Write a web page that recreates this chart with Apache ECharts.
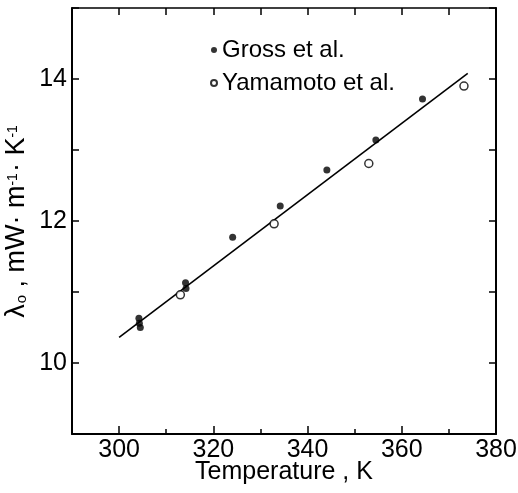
<!DOCTYPE html>
<html>
<head>
<meta charset="utf-8">
<script src="https://cdn.jsdelivr.net/npm/echarts@6/dist/echarts.min.js"></script>
<style>html,body{margin:0;padding:0;background:#fff}#c{width:518px;height:493px}</style>
</head>
<body>
<div id="c"></div>
<script>
// Data
const grossT = [304.2, 304.3, 304.5, 314.1, 314.2, 324.1, 334.2, 344.1, 354.5, 364.4];
const grossL = [10.63, 10.56, 10.50, 11.13, 11.05, 11.77, 12.21, 12.72, 13.14, 13.72];
const yamaT = [313.0, 332.9, 353.0, 373.2];
const yamaL = [10.96, 11.96, 12.81, 13.90];
const fitT = [300, 374];
const fitL = [10.36, 14.08];
const xMajorTicks = [300, 320, 340, 360, 380];
const seriesNames = ['Gross et al.', 'Yamamoto et al.'];

const zip = (a, b) => a.map((v, i) => [v, b[i]]);
const FONT = 'Liberation Sans';
const gridRect = { left: 72, right: 22, top: 8, bottom: 59, outerBoundsMode: 'none', containLabel: false };

const chart = echarts.init(document.getElementById('c'), null, { renderer: 'canvas' });
chart.setOption({
  animation: false,
  backgroundColor: '#fff',
  textStyle: { fontFamily: FONT, color: '#000' },
  grid: [Object.assign({}, gridRect), Object.assign({}, gridRect)],
  legend: {
    orient: 'vertical',
    left: 205,
    top: 33,
    itemWidth: 6,
    itemHeight: 6,
    itemGap: 9,
    data: seriesNames,
    textStyle: { fontFamily: FONT, fontSize: 24, color: '#000', lineHeight: 24 }
  },
  xAxis: [
    {
      gridIndex: 0, type: 'value', position: 'bottom', min: 290, max: 380, interval: 10,
      axisLine: { lineStyle: { color: '#000', width: 2 } },
      axisTick: { inside: true, length: 5, lineStyle: { color: '#000', width: 1.5 } },
      axisLabel: {
        fontFamily: FONT, fontSize: 25, color: '#000', margin: 4,
        formatter: v => (v >= 300 && v % 20 === 0) ? String(v) : ''
      },
      splitLine: { show: false },
      name: 'Temperature , K', nameLocation: 'middle', nameGap: 26, nameMoveOverlap: false,
      nameTextStyle: { fontFamily: FONT, fontSize: 25, color: '#000' }
    },
    {
      gridIndex: 0, type: 'value', position: 'top', min: 290, max: 380, interval: 10,
      axisLine: { lineStyle: { color: '#000', width: 1.5 } },
      axisTick: { inside: true, length: 7, lineStyle: { color: '#000', width: 1.5 } },
      axisLabel: { show: false },
      splitLine: { show: false }
    },
    {
      gridIndex: 1, type: 'value', position: 'bottom', min: 290, max: 380, interval: 10,
      axisLine: { show: false },
      axisTick: { inside: true, length: 8, customValues: xMajorTicks, lineStyle: { color: '#000', width: 1.5 } },
      axisLabel: { show: false },
      splitLine: { show: false }
    }
  ],
  yAxis: [
    {
      gridIndex: 0, type: 'value', position: 'left', min: 9, max: 15, interval: 1,
      axisLine: { lineStyle: { color: '#000', width: 2 } },
      axisTick: { inside: true, length: 7, lineStyle: { color: '#000', width: 1.5 } },
      axisLabel: {
        fontFamily: FONT, fontSize: 25, color: '#000', margin: 5,
        formatter: v => (v % 2 === 0) ? String(v) : ''
      },
      splitLine: { show: false },
      name: '{m|λ}{s|o}{m| , mW· m}{p|-1}{m|· K}{p|-1}',
      nameLocation: 'middle', nameGap: 40, nameRotate: 90, nameMoveOverlap: false,
      nameTextStyle: {
        fontFamily: FONT, color: '#000',
        rich: {
          m: { fontFamily: FONT, fontSize: 27, color: '#000', lineHeight: 30, verticalAlign: 'middle' },
          s: { fontFamily: FONT, fontSize: 15, color: '#000', lineHeight: 30, verticalAlign: 'bottom', padding: [0, 0, 3, 1] },
          p: { fontFamily: FONT, fontSize: 14, color: '#000', lineHeight: 30, verticalAlign: 'top', padding: [4, 1, 0, 0] }
        }
      }
    },
    {
      gridIndex: 0, type: 'value', position: 'right', min: 9, max: 15, interval: 1,
      axisLine: { lineStyle: { color: '#000', width: 2 } },
      axisTick: { inside: true, length: 7, lineStyle: { color: '#000', width: 1.5 } },
      axisLabel: { show: false },
      splitLine: { show: false }
    },
    {
      gridIndex: 1, type: 'value', position: 'left', min: 9, max: 15, interval: 1, show: false
    }
  ],
  series: [
    {
      type: 'line', xAxisIndex: 0, yAxisIndex: 0, data: zip(fitT, fitL),
      symbol: 'none', lineStyle: { color: '#000', width: 1.6 }, z: 1, silent: true
    },
    {
      name: seriesNames[0], type: 'scatter', xAxisIndex: 0, yAxisIndex: 0,
      data: zip(grossT, grossL), symbol: 'circle', symbolSize: 7,
      itemStyle: { color: '#000' }, z: 3
    },
    {
      name: seriesNames[1], type: 'scatter', xAxisIndex: 0, yAxisIndex: 0,
      data: zip(yamaT, yamaL), symbol: 'circle', symbolSize: 8,
      itemStyle: { color: '#fff', borderColor: '#000', borderWidth: 1.5 }, z: 3
    }
  ]
});
</script>
</body>
</html>
